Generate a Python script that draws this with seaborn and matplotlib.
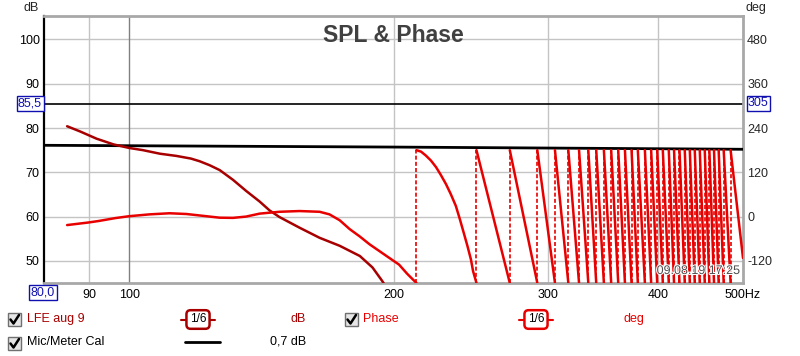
import numpy as np
import pandas as pd
import matplotlib
matplotlib.use('Agg')
import matplotlib.pyplot as plt
import matplotlib.patheffects as pe
import seaborn as sns
from matplotlib.patches import Rectangle
from matplotlib.lines import Line2D
from matplotlib.ticker import NullLocator

# SPL of "LFE aug 9" (dB)
spl_freq = [85, 88, 91.8, 96.0, 100, 103.7, 108.4, 113.2, 117.6, 120.3, 123.5, 126.8,
            131.3, 135.9, 140.8, 144.5, 148.3, 156.3, 164.8, 173.7, 183.1, 189.3, 194.1, 197]
spl_db = [80.4, 79.2, 77.6, 76.3, 75.5, 75.0, 74.2, 73.7, 73.1, 72.5, 71.6, 70.5,
          68.3, 65.8, 63.4, 61.4, 59.9, 57.5, 55.2, 53.4, 51.1, 48.5, 45.5, 43.5]

# Mic/Meter Cal (dB)
cal_freq = [80, 200, 500]
cal_db = [76.1, 75.7, 75.2]

# phase (deg) below the first wrap
phase_freq = [85, 89.9, 92.3, 96.5, 100, 105.5, 111.2, 116.2, 121.4, 126.8, 131.3, 135.9,
              140.8, 148.3, 156.3, 164.8, 169.1, 173.7, 178.3, 183.1, 187.8, 192.6, 197.8,
              202.9, 207.3, 212.4]
phase_deg = [-23, -16, -12, -4, 1, 6, 9, 7, 2, -3, -3.5, 0,
             8, 13, 15, 13, 6, -10, -34, -54, -75, -93, -112,
             -130, -155, -180]

# first segment after the wrap at 212 Hz
seg1_freq = [212.4, 215.0, 217.8, 220.6, 223.6, 226.4, 229.5, 232.4, 235.5, 238.0, 240.7,
             242.8, 245.0, 246.4, 248.6]
seg1_deg = [180, 176, 165, 152, 134, 113, 88, 61, 29, -7, -48, -80, -116, -148, -180]

# frequencies where the phase wraps from -180 to +180
wrap_freq = [212.4, 248.6, 271.3, 291.6, 305.4, 316.3, 325.3, 333.3, 340.3, 347.2,
             353.9, 360.5, 366.9, 373.3, 379.5, 386.6, 393, 399.3, 405.2, 411.6,
             417.3, 423.3, 429.2, 434.9, 440.6, 446.4, 452.3, 457.8, 463.4, 469.1,
             475.3, 484]
last_freq = [484, 500]
last_deg = [180, -112]

x_ticks = [90, 100, 200, 300, 400, 500]
x_labels = ['90', '100', '200', '300', '400', '500Hz']
db_ticks = [50, 60, 70, 80, 90, 100]
deg_ticks = [-120, 0, 120, 240, 360, 480]

LFE = '#a80000'
PH = '#e80000'

sns.set_style('white')
plt.rcParams['font.family'] = ['Liberation Sans', 'DejaVu Sans']

W, H = 800, 356
fig = plt.figure(figsize=(8, 3.56), dpi=100)
fig.patch.set_facecolor('white')


def fx(px):
    return px / W


def fy(py):
    return 1 - py / H


ax = fig.add_axes([fx(44), fy(283), (743 - 44) / W, (283 - 16) / H])
ax.set_xscale('log')
ax.set_xlim(80, 500)
db_lo, db_hi = 45, 105.3
ax.set_ylim(db_lo, db_hi)

# grid
for y in db_ticks:
    ax.axhline(y, color='#c4c4c4', lw=1, zorder=0)
for x in [90, 200, 300, 400]:
    ax.axvline(x, color='#c4c4c4', lw=1, zorder=0)
ax.axvline(100, color='#808080', lw=1, zorder=0)
ax.axhline(85.5, color='black', lw=1.2, zorder=1)

sns.lineplot(x=cal_freq, y=cal_db, ax=ax, color='black', lw=2, zorder=3)
sns.lineplot(x=spl_freq, y=spl_db, ax=ax, color=LFE, lw=1.8, zorder=3)

ax.set_xticks(x_ticks)
ax.set_xticklabels(x_labels)
ax.xaxis.set_minor_locator(NullLocator())
ax.set_yticks(db_ticks)
ax.set_yticklabels([str(v) for v in db_ticks])
ax.tick_params(axis='both', length=0, labelsize=9, pad=3, colors='black')
ax.tick_params(axis='x', pad=4)

for s in ['top', 'right', 'bottom']:
    ax.spines[s].set_color('#a8a8a8')
    ax.spines[s].set_linewidth(2)
ax.spines['left'].set_color('black')
ax.spines['left'].set_linewidth(1.6)

# phase on the right axis
ax2 = ax.twinx()
ax2.set_ylim(12 * (db_lo - 60), 12 * (db_hi - 60))
ax2.set_yticks(deg_ticks)
ax2.set_yticklabels([str(v) for v in deg_ticks])
ax2.tick_params(axis='y', length=0, labelsize=9, pad=3)
ax2.xaxis.set_minor_locator(NullLocator())
for s in ax2.spines.values():
    s.set_visible(False)

rows = []
for f, d in zip(phase_freq, phase_deg):
    rows.append((f, d, 0))
for f, d in zip(seg1_freq, seg1_deg):
    rows.append((f, d, 1))
for i in range(1, len(wrap_freq) - 1):
    rows.append((wrap_freq[i], 180, i + 1))
    rows.append((wrap_freq[i + 1], -180, i + 1))
for f, d in zip(last_freq, last_deg):
    rows.append((f, d, len(wrap_freq) + 1))
phase_df = pd.DataFrame(rows, columns=['freq', 'deg', 'seg'])

ax2.vlines(wrap_freq, -180, 180, colors=PH, lw=1.2, linestyles=(0, (2.4, 1.3)), zorder=2)
sns.lineplot(data=phase_df, x='freq', y='deg', units='seg', estimator=None, sort=False,
             ax=ax2, color=PH, lw=1.8, zorder=3)
ax2.set_xlabel('')
ax2.set_ylabel('')
ax.set_xlabel('')
ax.set_ylabel('')
ax2.set_xlim(80, 500)

# title and stamps
fig.text(fx(393), fy(35), 'SPL & Phase', ha='center', va='center', fontsize=16.5,
         fontweight='bold', color='#404040')
fig.text(fx(740), fy(271), '09.08.19 17:25', ha='right', va='center', fontsize=9,
         color='#505050', path_effects=[pe.withStroke(linewidth=1.5, foreground='white')])
fig.text(fx(31), fy(8), 'dB', ha='center', va='center', fontsize=9)
fig.text(fx(746), fy(8), 'deg', ha='left', va='center', fontsize=9)

# cursor value boxes
box = dict(boxstyle='square,pad=0.12', fc='white', ec='#1010b0', lw=1)
fig.text(fx(42), fy(103.5), '85,5', ha='right', va='center', fontsize=9,
         color='#1010b0', bbox=box)
fig.text(fx(748), fy(103.5), '305', ha='left', va='center', fontsize=9,
         color='#1010b0', bbox=box)
fig.text(fx(43), fy(292.5), '80,0', ha='center', va='center', fontsize=9,
         color='#1010b0', bbox=box)


# legend rows
def checkbox(x, y):
    fig.patches.append(Rectangle((fx(x), fy(y + 13)), 13 / W, 13 / H, transform=fig.transFigure,
                                 fc='#e6e6e6', ec='#707070', lw=1))
    fig.lines.append(Line2D([fx(x + 2.5), fx(x + 5.5), fx(x + 11)],
                            [fy(y + 6.5), fy(y + 10.5), fy(y + 2)],
                            transform=fig.transFigure, color='black', lw=1.8))


def smooth_box(xc, y, col):
    fig.lines.append(Line2D([fx(xc - 17), fx(xc + 17)], [fy(y), fy(y)],
                            transform=fig.transFigure, color=col, lw=1.5))
    fig.text(fx(xc), fy(y), '1/6', ha='center', va='center', fontsize=8.5, color='black',
             bbox=dict(boxstyle='round,pad=0.28,rounding_size=0.35', fc='white', ec=col, lw=1.8))


checkbox(8, 313)
fig.text(fx(27), fy(319), 'LFE aug 9', ha='left', va='center', fontsize=9, color=LFE)
smooth_box(198, 319.5, LFE)
fig.text(fx(306), fy(319), 'dB', ha='right', va='center', fontsize=9, color=LFE)
checkbox(345, 313)
fig.text(fx(363), fy(319), 'Phase', ha='left', va='center', fontsize=9, color=PH)
smooth_box(536, 319.5, PH)
fig.text(fx(623), fy(319), 'deg', ha='left', va='center', fontsize=9, color=PH)

checkbox(8, 337)
fig.text(fx(27), fy(342), 'Mic/Meter Cal', ha='left', va='center', fontsize=9, color='black')
fig.lines.append(Line2D([fx(185), fx(220)], [fy(342), fy(342)], transform=fig.transFigure,
                        color='black', lw=2))
fig.text(fx(306), fy(342), '0,7 dB', ha='right', va='center', fontsize=9, color='black')

fig.savefig('out.png', dpi=100)
